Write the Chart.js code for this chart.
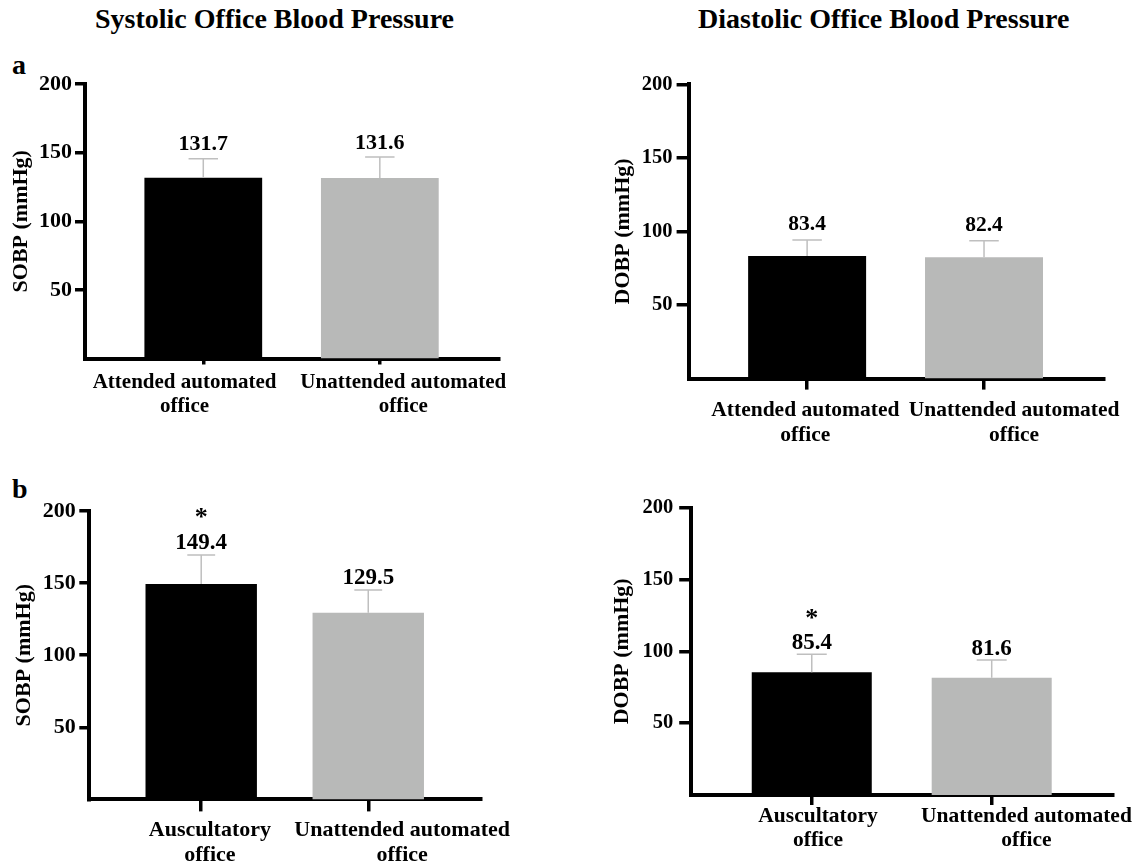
<!DOCTYPE html>
<html>
<head>
<meta charset="utf-8">
<title>Office Blood Pressure</title>
<script src="https://cdn.jsdelivr.net/npm/chart.js@4/dist/chart.umd.min.js"></script>
<style>
  html, body { margin: 0; padding: 0; background: #fff; }
  body { width: 1148px; height: 866px; position: relative; overflow: hidden;
         font-family: 'Liberation Serif', 'Times New Roman', serif; }
  .t { position: absolute; font-weight: bold; color: #000; line-height: 1; white-space: nowrap; }
  canvas { position: absolute; }
</style>
</head>
<body>
<div class="t" style="left:95px; top:5px; font-size:28px;">Systolic Office Blood Pressure</div>
<div class="t" style="left:698px; top:5px; font-size:28px;">Diastolic Office Blood Pressure</div>
<div class="t" style="left:12px; top:51px; font-size:28px;">a</div>
<div class="t" style="left:12px; top:475px; font-size:28px;">b</div>
<canvas id="aS"></canvas>
<canvas id="aD"></canvas>
<canvas id="bS"></canvas>
<canvas id="bD"></canvas>
<script>
// ---- values (mmHg): mean and SD per measurement method ----
const yTickValues = [50, 100, 150, 200];
const groupsA = [['Attended automated', 'office'], ['Unattended automated', 'office']];
const groupsB = [['Auscultatory', 'office'], ['Unattended automated', 'office']];

const sbpA = [131.7, 131.6];
const sbpAsd = [13.9, 15.2];
const dbpA = [83.4, 82.4];
const dbpAsd = [10.8, 11.3];

const sbpB = [149.4, 129.5];
const sbpBsd = [20.1, 15.7];
const dbpB = [85.4, 81.6];
const dbpBsd = [12.5, 12.4];

const sigA = [false, false];
const sigB = [true, false];

// ---- styling ----
const SERIF = "'Liberation Serif', 'Times New Roman', serif";
const BAR_COLORS = ['#000000', '#b8b9b8'];
const ERR_COLOR = '#bfbfbf';
const X_MIN = -0.67, X_MAX = 1.675;
const LABEL_BAND = 66;

// box = canvas [left, top, width, height]; area = plot [left, top, right, bottom]
const panels = [
  { id: 'aS', box: [0, 60, 540, 420], area: [85, 84, 499, 358.5],
    values: sbpA, sd: sbpAsd, sig: sigA, labels: groupsA, yTitle: 'SOBP (mmHg)',
    titleX: 21, tickY: 10, padY: 3, tickX: 6, tickFont: 22, labelFont: 21, lineH: 24,
    labelShift: [-0.106, 0.133], labelMid: 382.7, valueFont: 22, valueGap: 8.4 },
  { id: 'aD', box: [560, 60, 588, 420], area: [688.6, 84.3, 1130.7, 378.6],
    values: dbpA, sd: dbpAsd, sig: sigA, labels: groupsA, yTitle: 'DOBP (mmHg)',
    titleX: 623.7, tickY: 12, padY: 4, tickX: 11, tickFont: 20.5, labelFont: 21.5, lineH: 25,
    labelShift: [-0.01, 0.17], labelMid: 410, valueFont: 21.5, valueGap: 9.7 },
  { id: 'bS', box: [0, 460, 540, 406], area: [89.3, 511, 523.2, 799.4],
    values: sbpB, sd: sbpBsd, sig: sigB, labels: groupsB, yTitle: 'SOBP (mmHg)',
    titleX: 24, tickY: 10, padY: 3.5, tickX: 12, tickFont: 22, labelFont: 22, lineH: 25,
    labelShift: [0.052, 0.203], labelMid: 830, valueFont: 23, valueGap: 6 },
  { id: 'bD', box: [560, 460, 588, 406], area: [691.2, 507.7, 1124.3, 795],
    values: dbpB, sd: dbpBsd, sig: sigB, labels: groupsB, yTitle: 'DOBP (mmHg)',
    titleX: 621.9, tickY: 12, padY: 6, tickX: 10, tickFont: 20.5, labelFont: 21.5, lineH: 24,
    labelShift: [0.035, 0.193], labelMid: 816, valueFont: 23, valueGap: 5.3 }
];

// SD whiskers, mean labels and significance stars above each bar
function makeAnnotate(p) {
  return {
    id: 'annotate_' + p.id,
    afterDatasetsDraw(chart) {
      const ctx = chart.ctx;
      const y = chart.scales.y;
      const meta = chart.getDatasetMeta(0);
      meta.data.forEach((bar, i) => {
        const top = y.getPixelForValue(p.values[i] + p.sd[i]);
        const half = bar.width * 0.125;
        ctx.save();
        ctx.strokeStyle = ERR_COLOR;
        ctx.lineWidth = 1.5;
        ctx.beginPath();
        ctx.moveTo(bar.x, bar.y);
        ctx.lineTo(bar.x, top);
        ctx.moveTo(bar.x - half, top);
        ctx.lineTo(bar.x + half, top);
        ctx.stroke();

        ctx.fillStyle = '#000';
        ctx.textAlign = 'center';
        ctx.textBaseline = 'alphabetic';
        ctx.font = 'bold ' + p.valueFont + 'px ' + SERIF;
        const base = top - p.valueGap;
        ctx.fillText(p.values[i].toFixed(1), bar.x, base);
        if (p.sig[i]) {
          ctx.font = 'bold 26px ' + SERIF;
          ctx.fillText('*', bar.x, base - 23.5);
        }
        ctx.restore();
      });
    }
  };
}

function build(p) {
  const [bx, by, bw, bh] = p.box;
  const [L, T, R, B] = p.area;
  const cv = document.getElementById(p.id);
  cv.width = bw;
  cv.height = bh;
  cv.style.left = bx + 'px';
  cv.style.top = by + 'px';

  new Chart(cv, {
    type: 'bar',
    data: {
      datasets: [{
        data: p.values.map((v, i) => ({ x: i, y: v })),
        backgroundColor: BAR_COLORS,
        borderWidth: 0,
        barPercentage: 0.667,
        categoryPercentage: 1,
        xAxisID: 'x',
        yAxisID: 'y'
      }]
    },
    options: {
      responsive: false,
      animation: false,
      devicePixelRatio: 1,
      events: [],
      layout: { padding: { left: 0, top: T - by, right: bx + bw - R, bottom: by + bh - B - LABEL_BAND } },
      plugins: { legend: { display: false }, tooltip: { enabled: false } },
      scales: {
        x: {
          type: 'linear', position: 'bottom', min: X_MIN, max: X_MAX, z: 1, offset: false,
          afterBuildTicks: s => { s.ticks = [{ value: 0 }, { value: 1 }]; },
          afterFit: s => { s.height = 0; },
          ticks: { display: false },
          grid: { display: true, offset: false, drawOnChartArea: false, drawTicks: true, tickLength: p.tickX, lineWidth: 3.5, color: '#000' },
          border: { display: true, width: 4, color: '#000' }
        },
        xl: {
          type: 'linear', position: 'bottom', weight: 1, min: X_MIN, max: X_MAX, offset: false,
          afterBuildTicks: s => { s.ticks = p.labelShift.map((d, i) => ({ value: i + d })); },
          afterFit: s => { s.height = LABEL_BAND; },
          grid: { display: false, offset: false, drawTicks: false },
          border: { display: false },
          ticks: {
            autoSkip: false, maxRotation: 0, minRotation: 0,
            padding: p.labelMid - B - p.lineH / 2,
            color: '#000',
            font: { family: SERIF, size: p.labelFont, weight: 'bold', lineHeight: p.lineH / p.labelFont },
            callback: (v, i) => p.labels[i]
          }
        },
        y: {
          min: 0, max: 200, z: 1,
          afterBuildTicks: s => { s.ticks = yTickValues.map(v => ({ value: v })); },
          afterFit: s => { s.width = L - bx; },
          ticks: { padding: p.padY, color: '#000', font: { family: SERIF, size: p.tickFont, weight: 'bold' } },
          grid: { display: true, drawOnChartArea: false, drawTicks: true, tickLength: p.tickY, lineWidth: 3.5, color: '#000' },
          border: { display: true, width: 4, color: '#000' },
          title: {
            display: true, text: p.yTitle, color: '#000',
            font: { family: SERIF, size: 22, weight: 'bold', lineHeight: 1 },
            padding: { top: p.titleX - bx - 11, bottom: 0 }
          }
        }
      }
    },
    plugins: [makeAnnotate(p)]
  });
}

panels.forEach(build);
</script>
</body>
</html>
